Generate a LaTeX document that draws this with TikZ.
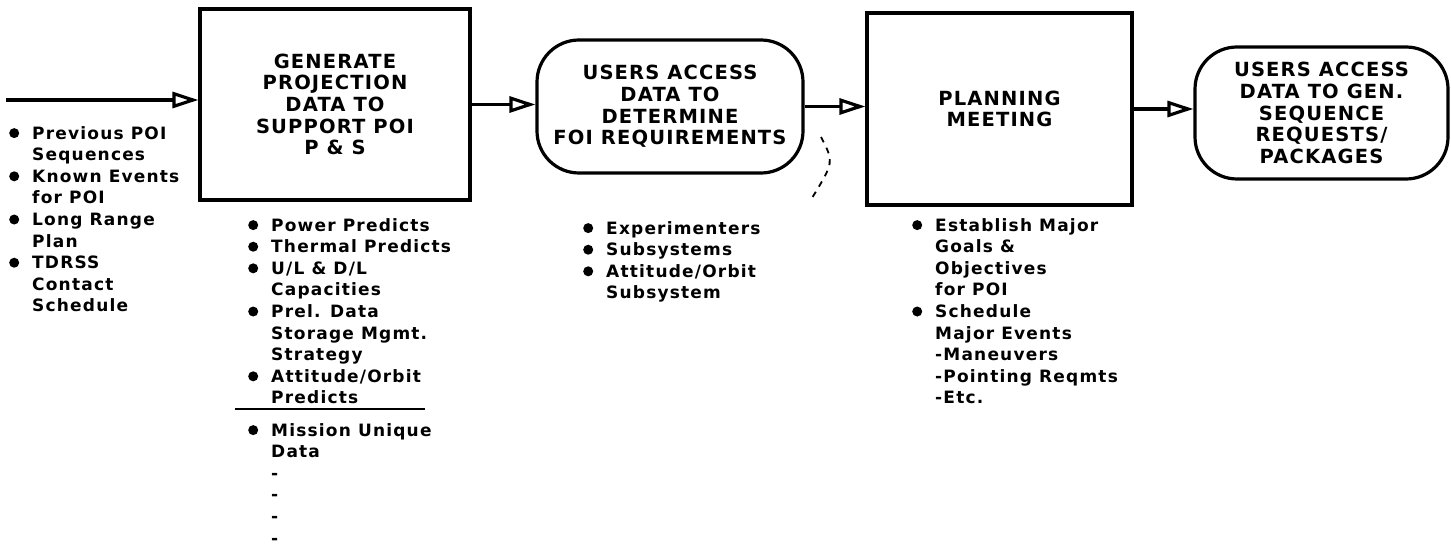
\documentclass[tikz,border=0pt]{standalone}
\usepackage{fontspec}
\setmainfont{DejaVu Sans}
\newfontfamily\chartfont{DejaVu Sans Bold}[LetterSpace=7]
\newfontfamily\boxfont{DejaVu Sans Bold}[LetterSpace=6]
\usetikzlibrary{arrows.meta}
\newcommand{\blt}{\makebox[23pt][l]{\tikz[baseline=-6pt]\fill (0,0) circle (5pt);}}
\newcommand{\cnt}{\hspace*{23pt}}

\begin{document}
\begin{tikzpicture}
[x=1pt,y=-1pt,
					proc/.style={rectangle,draw=black,line width=3.2pt,inner sep=0pt,align=center,
						font=\boxfont\fontsize{19.5}{21.7}\selectfont},
					term/.style={proc,rounded corners=42pt},
					items/.style={anchor=north west,inner sep=0pt,align=left,
						font=\chartfont\fontsize{17}{21.6}\selectfont},
					flow/.style={line width=3.2pt,-{Triangle[open,length=26pt,width=16pt]}}]
					\useasboundingbox (0,0) rectangle (1451,548);
					\node[proc,minimum width=270pt,minimum height=191pt] (gen) at (335,104.5) {GENERATE\\PROJECTION\\DATA TO\\SUPPORT POI\\P \& S};
					\node[term,minimum width=266pt,minimum height=133pt] (acc) at (670,106.5) {USERS ACCESS\\DATA TO\\DETERMINE\\FOI REQUIREMENTS};
					\node[proc,minimum width=265pt,minimum height=192pt] (plan) at (999.5,109) {PLANNING\\MEETING};
					\node[term,minimum width=253pt,minimum height=132pt] (seq) at (1321.5,113) {USERS ACCESS\\DATA TO GEN.\\SEQUENCE\\REQUESTS/\\PACKAGES};
					\coordinate (src) at (6,100);
					\path (src) edge[flow] (src -| gen.west);
					\path (gen.east) edge[flow] (gen.east -| acc.west);
					\path (acc.east) edge[flow] (acc.east -| plan.west);
					\path (plan.east) edge[flow] (plan.east -| seq.west);
					% inputs and products
					\node[items] (inp) at (9,126) {\blt Previous POI\\\cnt Sequences\\\blt Known Events\\\cnt for POI\\\blt Long Range\\\cnt Plan\\\blt TDRSS\\\cnt Contact\\\cnt Schedule};
					\node[items] (pred) at (248,218) {\blt Power Predicts\\\blt Thermal Predicts\\\blt U/L \& D/L\\\cnt Capacities\\\blt Prel. Data\\\cnt Storage Mgmt.\\\cnt Strategy\\\blt Attitude/Orbit\\\cnt Predicts};
					\draw[line width=2pt] (235,409) -- (425,409);
					\node[items] (mis) at (248,423) {\blt Mission Unique\\\cnt Data\\\cnt -\\\cnt -\\\cnt -\\\cnt -};
					\node[items] (usr) at (583,221) {\blt Experimenters\\\blt Subsystems\\\blt Attitude/Orbit\\\cnt Subsystem};
					\node[items] (goal) at (912,218) {\blt Establish Major\\\cnt Goals \&\\\cnt Objectives\\\cnt for POI\\\blt Schedule\\\cnt Major Events\\\cnt -Maneuvers\\\cnt -Pointing Reqmts\\\cnt -Etc.};
					\draw[line width=1.8pt,dash pattern=on 6pt off 6pt] (821,137) .. controls (834,162) .. (812,198);
				\end{tikzpicture}
\end{document}
